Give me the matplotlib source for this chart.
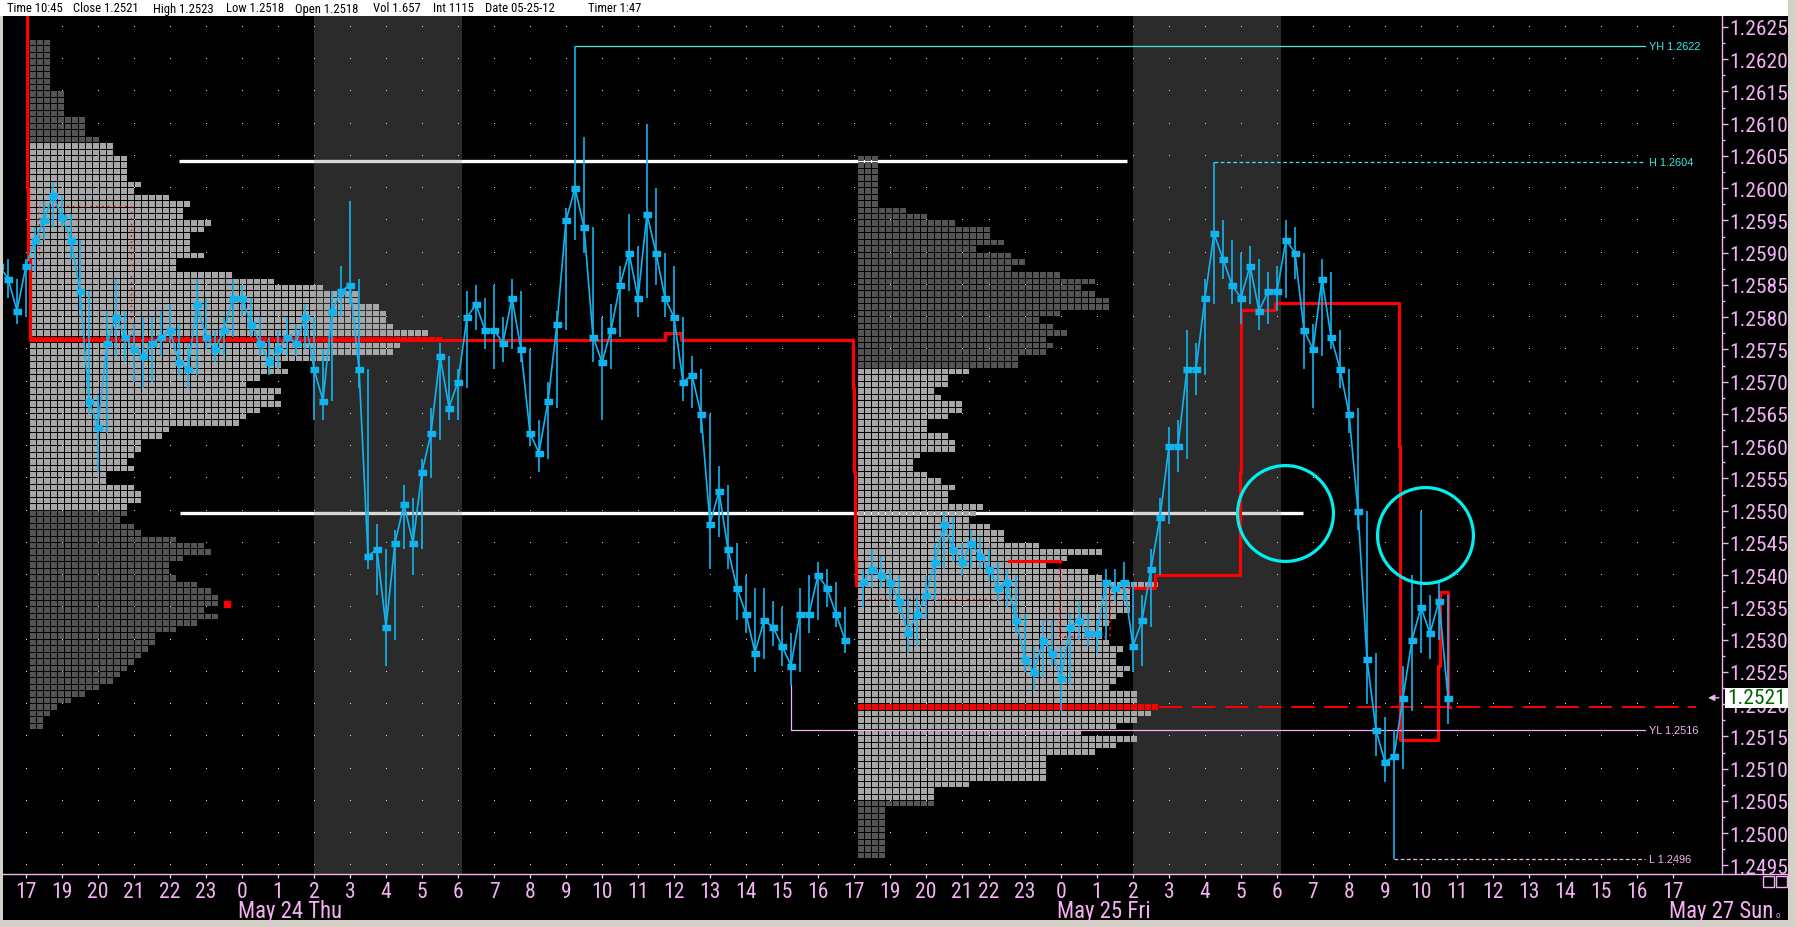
import matplotlib
matplotlib.use('Agg')
import matplotlib.pyplot as plt
import matplotlib.font_manager as fm
import matplotlib.transforms as mtransforms
from matplotlib.lines import Line2D
from matplotlib.patches import Rectangle
import numpy as np

# ---------------- chart values (prices as pips above 1.2500) ----------------
header_fields = ['Time 10:45', 'Close 1.2521', 'High 1.2523', 'Low 1.2518', 'Open 1.2518',
                 'Vol 1.657', 'Int 1115', 'Date 05-25-12', 'Timer 1:47']

hour_labels = (['17', '19', '20', '21', '22', '23'] + [str(h) for h in range(18)] +
               ['19', '20', '21', '22', '23'] + [str(h) for h in range(18)])
day_labels = ['May 24 Thu', 'May 25 Fri', 'May 27 Sun']

price_ticks = list(range(-5, 126, 5))          # 1.2495 ... 1.2625

# 15 minute bars, session 1 and session 2
d1_close = [88, 86, 81, 88, 92, 95, 99, 95.5, 92, 84,
            67, 63, 76, 80, 77, 75, 74, 76, 77, 78,
            73, 72, 82, 77, 75, 78, 83, 83, 79, 76,
            73, 75, 77, 76, 80, 72, 67, 81, 84, 85,
            72, 43, 44, 32, 45, 51, 45, 56, 62, 74,
            66, 70, 80, 82, 78, 78, 76, 83, 75, 62,
            59, 67, 79, 95, 100, 94, 77, 73, 78, 85,
            90, 83, 96, 90, 83, 80, 70, 71, 65, 48,
            53, 44, 38, 34, 28, 33, 32, 29, 26, 34,
            34, 40, 38, 34, 30]
d1_high = [91, 89, 86, 89, 94, 98, 101, 99, 96, 92,
           84, 68, 81, 86, 81, 79, 80, 80, 81, 82,
           79, 76, 86, 83, 78, 80, 86, 85, 83, 80,
           77, 78, 80, 79, 82, 80, 75, 84, 88, 98,
           86, 72, 48, 44, 47, 54, 52, 58, 66, 76,
           74, 72, 84, 85, 83, 85, 80, 86, 84, 75,
           64, 70, 81, 97, 122, 108, 94, 80, 82, 88,
           96, 91, 110, 100, 90, 88, 80, 74, 72, 65,
           57, 54, 45, 40, 38, 38, 36, 35, 31, 38,
           40, 42, 41, 39, 35]
d1_low = [86, 83, 79, 80, 87, 92, 94, 94, 89, 81,
          65, 56, 62, 74, 73, 70, 69, 70, 74, 76,
          71, 69, 71, 75, 73, 74, 77, 80, 77, 74,
          71, 72, 74, 74, 75, 64, 64, 67, 80, 82,
          69, 41, 37, 26, 30, 44, 40, 44, 55, 61,
          64, 64, 69, 78, 75, 72, 73, 75, 73, 60,
          56, 58, 66, 78, 92, 90, 73, 64, 72, 77,
          84, 80, 83, 85, 80, 72, 67, 66, 62, 41,
          46, 41, 33, 31, 25, 27, 29, 26, 23, 25,
          31, 33, 35, 32, 28]

d2_close = [39, 41, 40, 39, 36, 31, 34, 37, 42, 48,
            44, 42, 45, 43, 41, 38, 39, 33, 27, 25,
            30, 28, 24, 32, 33, 31, 31, 39, 38, 39,
            29, 33, 41, 49, 60, 60, 72, 72, 83, 93,
            89, 85, 83, 88, 81, 84, 84, 92, 90, 78,
            75, 86, 77, 72, 65, 50, 27, 16, 11, 12,
            21, 30, 35, 31, 36, 21]
d2_high = [41, 44, 43, 41, 40, 37, 37, 40, 45, 50,
           49, 45, 47, 46, 44, 42, 41, 40, 34, 29,
           33, 33, 29, 34, 36, 34, 33, 41, 41, 42,
           39, 37, 44, 52, 63, 64, 78, 76, 86, 104,
           95, 92, 90, 91, 89, 87, 88, 95, 94, 90,
           79, 89, 87, 78, 72, 66, 50, 28, 18, 16,
           26, 40, 50, 37, 39, 37]
d2_low = [35, 38, 38, 36, 34, 28, 29, 33, 36, 41,
          42, 40, 41, 41, 39, 36, 35, 31, 25, 22,
          24, 26, 19, 23, 30, 29, 28, 30, 36, 36,
          25, 26, 32, 40, 48, 56, 58, 68, 71, 82,
          86, 82, 79, 82, 78, 79, 81, 83, 86, 72,
          66, 74, 75, 69, 62, 47, 20, 12, 8, -4,
          10, 19, 28, 27, 30, 17]

# market profiles: TPO count per price row, from the top row down
prof1_top = 122
prof1_counts = ([3] * 8 + [5] * 4 + [8] * 3 + [10, 12, 12] +
                [14, 14, 14, 14, 16, 15, 20, 23, 22, 22, 26, 25, 23, 23, 23, 25, 21, 21, 29, 35,
                 42, 47, 47, 50, 51, 51, 52, 57, 59, 53, 52, 43, 36, 37, 33, 31, 36, 35, 36, 33,
                 31, 30, 20, 19, 16, 16, 15, 14, 15, 11, 11, 15, 16, 16, 14, 14, 13, 15, 16, 21,
                 25, 26, 22, 20, 20, 21, 24, 26, 27, 27, 25, 27, 24, 21, 18, 18, 17, 16] +
                [15, 14, 13, 12, 10, 8, 6, 4, 3, 2, 2])
prof1_va = (50, 106)
prof1_poc = 76
prof1_last = 35

prof2_top = 104
prof2_counts = ([3] * 8 +
                [7, 10, 14, 19, 19, 21, 17, 22, 24, 22, 29, 34, 32, 34, 36, 36, 29, 26, 28, 30,
                 27, 28, 27, 23, 23, 16, 13, 13, 11, 12, 15, 15, 13, 10, 10, 13, 14, 14, 9, 8,
                 8, 10, 12, 14, 13, 13, 18, 17, 16, 19, 21, 21, 26, 35, 30, 27, 33, 35, 43, 39,
                 39, 39, 39, 37, 36, 35, 35, 36, 38, 37, 37, 39, 38, 37, 36, 40, 40, 43, 42, 40,
                 37, 32, 40, 37, 34, 27, 27, 27, 27, 16, 11, 11, 11] +
                [4] * 8)
prof2_va = (5, 71)
prof2_poc = 19

# developing point of control (red step line)
red_t = [0.0, 0.03, 0.06, 0.1, 17.75, 18.2, 22.97, 23.0, 23.02, 23.05]
red_p = [128, 100, 89, 76.5, 77.5, 76.5, 69, 56, 42.7, 38.5]
red2_t = [27.3, 28.72]
red2_p = [42.2, 42.2]
red3_t = [30.75, 31.35, 33.72, 33.75, 34.7, 38.14, 38.16, 39.23, 39.28, 39.5, 39.55]
red3_p = [38.1, 40.1, 56, 81.1, 82.2, 60, 14.4, 26, 37.4, 19.5, 19.5]
red_dot_t = [28.72, 28.72, 30.1, 30.1, 30.75]
red_dot_p = [42.2, 30.5, 30.5, 38.1, 38.1]

# value-area lines carried forward from session 1
white_level = [104.3, 49.7]
white_start = [4.25, 4.28]
white_end = [30.58, 35.47]

yh, yl = 122, 16      # YH 1.2622 / YL 1.2516
hh, ll = 104, -4      # H 1.2604 / L 1.2496

circle_t = [34.97, 38.85]
circle_p = [49.6, 46.3]

# ---------------- styling ----------------
names = {f.name for f in fm.fontManager.ttflist}
FONT = 'Liberation Sans'
for cand in ['Liberation Sans Narrow', 'Arial Narrow', 'Roboto Condensed', 'Open Sans Condensed']:
    if cand in names:
        FONT = cand
        break

PINK = '#f4b2f4'
BLUE = '#12b4f0'
CYAN = '#3ee6e6'
RED = '#ff0000'
LIGHT = '#a6a6a6'
DARK = '#555555'


def P(p):
    return 1.25 + np.asarray(p, dtype=float) * 1e-4


W, H = 1796, 928
fig = plt.figure(figsize=(W / 100, H / 100), dpi=100, facecolor='#d4d0c8')
renderer = fig.canvas.get_renderer()


def fit_size(s, target_px, family=FONT):
    # font size that gives the text the width it has in the reference
    t = fig.text(0, 0, s, fontsize=10, family=family)
    w = t.get_window_extent(renderer).width
    t.remove()
    return 10 * target_px / w


s_price = fit_size('1.2625', 58)
s_hour = fit_size('20', 21)
s_date = fit_size('May 24 Thu', 104)
s_head = fit_size('Time 10:45', 55)
s_small = fit_size('YH 1.2622', 52, 'Liberation Sans')


def fx(px):
    return px / W


def fy(py):
    return 1 - py / H


fig.patches.append(Rectangle((0, fy(17)), fx(1788), 17 / H, transform=fig.transFigure,
                             facecolor='white', edgecolor='none', zorder=-5))
fig.patches.append(Rectangle((fx(3), fy(921)), fx(1785), (921 - 17) / H, transform=fig.transFigure,
                             facecolor='black', edgecolor='none', zorder=-5))

header_x = [7, 73, 153, 226, 295, 373, 433, 485, 588]
for s, x in zip(header_fields, header_x):
    fig.text(fx(x), fy(9), s, fontsize=s_head, family=FONT, color='black', va='center', ha='left')

ax = fig.add_axes([fx(3), fy(875), (1722 - 3) / W, (875 - 17) / H])
ax.set_facecolor('black')
xmin = -23 / 36
ax.set_xlim(xmin, xmin + 1719 / 36)
ax.set_ylim(P(-6.318), P(126.705))
for sp in ax.spines.values():
    sp.set_visible(False)

# value area lines (the session shading dims them)
for lev, a, b in zip(white_level, white_start, white_end):
    ax.plot([a, b], [P(lev), P(lev)], color='white', lw=2.4, solid_capstyle='butt', zorder=2)

# European session shading (02:00-06:00)
for a, b in [(8, 12.1), (30.75, 34.86)]:
    ax.axvspan(a, b, color='#868686', alpha=0.32, lw=0, zorder=2.1)

# dotted grid
hour_pos = list(range(24)) + [24, 25, 26, 26.75, 27.75] + [28.75 + h for h in range(18)]
gx, gy = np.meshgrid(hour_pos, P(price_ticks))
ax.plot(gx.ravel(), gy.ravel(), ',', color='#d8d8d8', zorder=2.2)


def draw_profile(left, top, counts, va, poc):
    cw = 7 / 36
    for i, n in enumerate(counts):
        pp = top - i
        if pp == poc:
            col = RED
        elif va[0] <= pp <= va[1]:
            col = LIGHT
        else:
            col = DARK
        ax.broken_barh([(left + j * cw, cw - 1.1 / 36) for j in range(n)],
                       (P(pp + 0.16), 0.84e-4), facecolors=col, antialiased=False, zorder=2.5)
    return cw


cw = draw_profile(0.11, prof1_top, prof1_counts, prof1_va, prof1_poc)
ax.plot([0.11 + 28 * cw + 0.02], [P(prof1_last + 0.5)], 's', color=RED, ms=4, zorder=2.6)
draw_profile(23.1, prof2_top, prof2_counts, prof2_va, prof2_poc)

# developing POC
for rt, rp in [(red_t, red_p), (red2_t, red2_p), (red3_t, red3_p)]:
    ax.plot(rt, P(rp), drawstyle='steps-post', color=RED, lw=2.3, zorder=3)
ax.plot([0.35, 0.35, 2.92, 2.92], P([88, 97.3, 97.3, 77]), color=RED, lw=1, ls=(0, (1.2, 3)), zorder=3)
ax.plot([23.05, 27.3], P([36.3, 36.3]), color=RED, lw=1, ls=(0, (1.2, 3)), zorder=3)
ax.plot(red_dot_t, P(red_dot_p), color=RED, lw=1.2, ls=(0, (1.5, 2.5)), zorder=3)
poc2_end = 23.1 + prof2_counts[prof2_top - prof2_poc] * cw
ax.plot([poc2_end, 46.4], P([prof2_poc + 0.5] * 2), color=RED, lw=1.4, ls=(0, (12, 5)), zorder=3)

# price bars
t1 = -0.75 + 0.25 * np.arange(len(d1_close))
t2 = 23.25 + 0.25 * np.arange(len(d2_close))
body = [(-1, -0.6), (1, -0.6), (1, 0.6), (-1, 0.6)]
for t, c, hi, lo in [(t1, d1_close, d1_high, d1_low), (t2, d2_close, d2_high, d2_low)]:
    ax.plot(t, P(c), color=BLUE, lw=1.2, zorder=4)
    ax.vlines(t, P(lo), P(hi), colors=BLUE, lw=1.2, zorder=4)
    ax.plot(t, P(c), ls='none', marker=body, ms=6, color=BLUE, zorder=4.1)

# previous / current session high & low references
lab_end = 44.97
i_yh, i_yl = int(np.argmax(d1_high)), int(np.argmin(d1_low))
i_h, i_l = int(np.argmax(d2_high)), int(np.argmin(d2_low))
ax.plot([t1[i_yh], lab_end], P([yh, yh]), color=CYAN, lw=0.9, zorder=3.5)
ax.plot([t1[i_yl], t1[i_yl], lab_end], P([d1_low[i_yl], yl, yl]), color=PINK, lw=0.9, zorder=3.5)
ax.plot([t2[i_h], lab_end], P([hh, hh]), color=CYAN, lw=0.9, ls=(0, (3, 2)), zorder=3.5)
ax.plot([t2[i_l], lab_end], P([ll, ll]), color=PINK, lw=0.9, ls=(0, (3, 2)), zorder=3.5)
for txt, lev, col in [('YH', yh, CYAN), ('H', hh, CYAN), ('YL', yl, PINK), ('L', ll, PINK)]:
    ax.text(lab_end + 0.1, P(lev), f'{txt} {P(lev):.4f}', color=col, fontsize=s_small,
            family='Liberation Sans', va='center', ha='left', zorder=5)

# highlight circles
ax.plot(circle_t, P(circle_p), 'o', ms=69, mfc='none', mec='#00f0f0', mew=2.3, zorder=5)

# axes: hours at the bottom, price at the right
ax.set_xticks(hour_pos)
ax.set_xticklabels(hour_labels, family=FONT, fontsize=s_hour, color=PINK)
ax.tick_params(axis='x', colors=PINK, length=3, width=1, pad=2, labelcolor=PINK)
ax.yaxis.tick_right()
ax.set_yticks(P(price_ticks))
ax.set_yticklabels([f'{P(p):.4f}' for p in price_ticks], family=FONT, fontsize=s_price, color=PINK)
ax.set_yticks(P(np.array(price_ticks[:-1]) + 2.5), minor=True)
ax.tick_params(axis='y', which='major', colors=PINK, length=4, width=1, pad=1, labelcolor=PINK)
ax.tick_params(axis='y', which='minor', colors=PINK, length=2.5, width=1)

trans = mtransforms.blended_transform_factory(ax.transData, ax.transAxes)
for lab, pos in zip(day_labels[:2], [6, 28.75]):
    ax.text(pos - 0.1, -0.043, lab, transform=trans, family=FONT, fontsize=s_date,
            color=PINK, ha='left', va='center', clip_on=False)
fig.text(fx(1773), fy(912), day_labels[2], family=FONT, fontsize=s_date, color=PINK,
         ha='right', va='center')
fig.text(fx(1775), fy(916), '0', family=FONT, fontsize=6, color=PINK, ha='left', va='center')

fig.add_artist(Line2D([fx(1722), fx(1722)], [fy(17), fy(875)], color=PINK, lw=1))
fig.add_artist(Line2D([fx(3), fx(1788)], [fy(875), fy(875)], color=PINK, lw=1))
for x0 in (1763, 1776):
    fig.patches.append(Rectangle((fx(x0), fy(888)), 11 / W, 11 / H, transform=fig.transFigure,
                                 facecolor='none', edgecolor=PINK, lw=1))

# last price tag
last = P(d2_close[-1])
yfig = fig.transFigure.inverted().transform(ax.transData.transform((0, last)))[1]
fig.patches.append(Rectangle((fx(1725), yfig - 10 / H), 63 / W, 20 / H, transform=fig.transFigure,
                             facecolor='white', edgecolor='none', zorder=3))
fig.text(fx(1727), yfig, f'{last:.4f}', family=FONT, fontsize=s_price, color='#006400',
         ha='left', va='center', zorder=4)
ax.annotate('', xy=(46.65, last), xytext=(47.1, last),
            arrowprops=dict(arrowstyle='-|>', color=PINK, lw=1, mutation_scale=9),
            annotation_clip=False, zorder=5)

fig.savefig('out.png', dpi=100, facecolor=fig.get_facecolor())
